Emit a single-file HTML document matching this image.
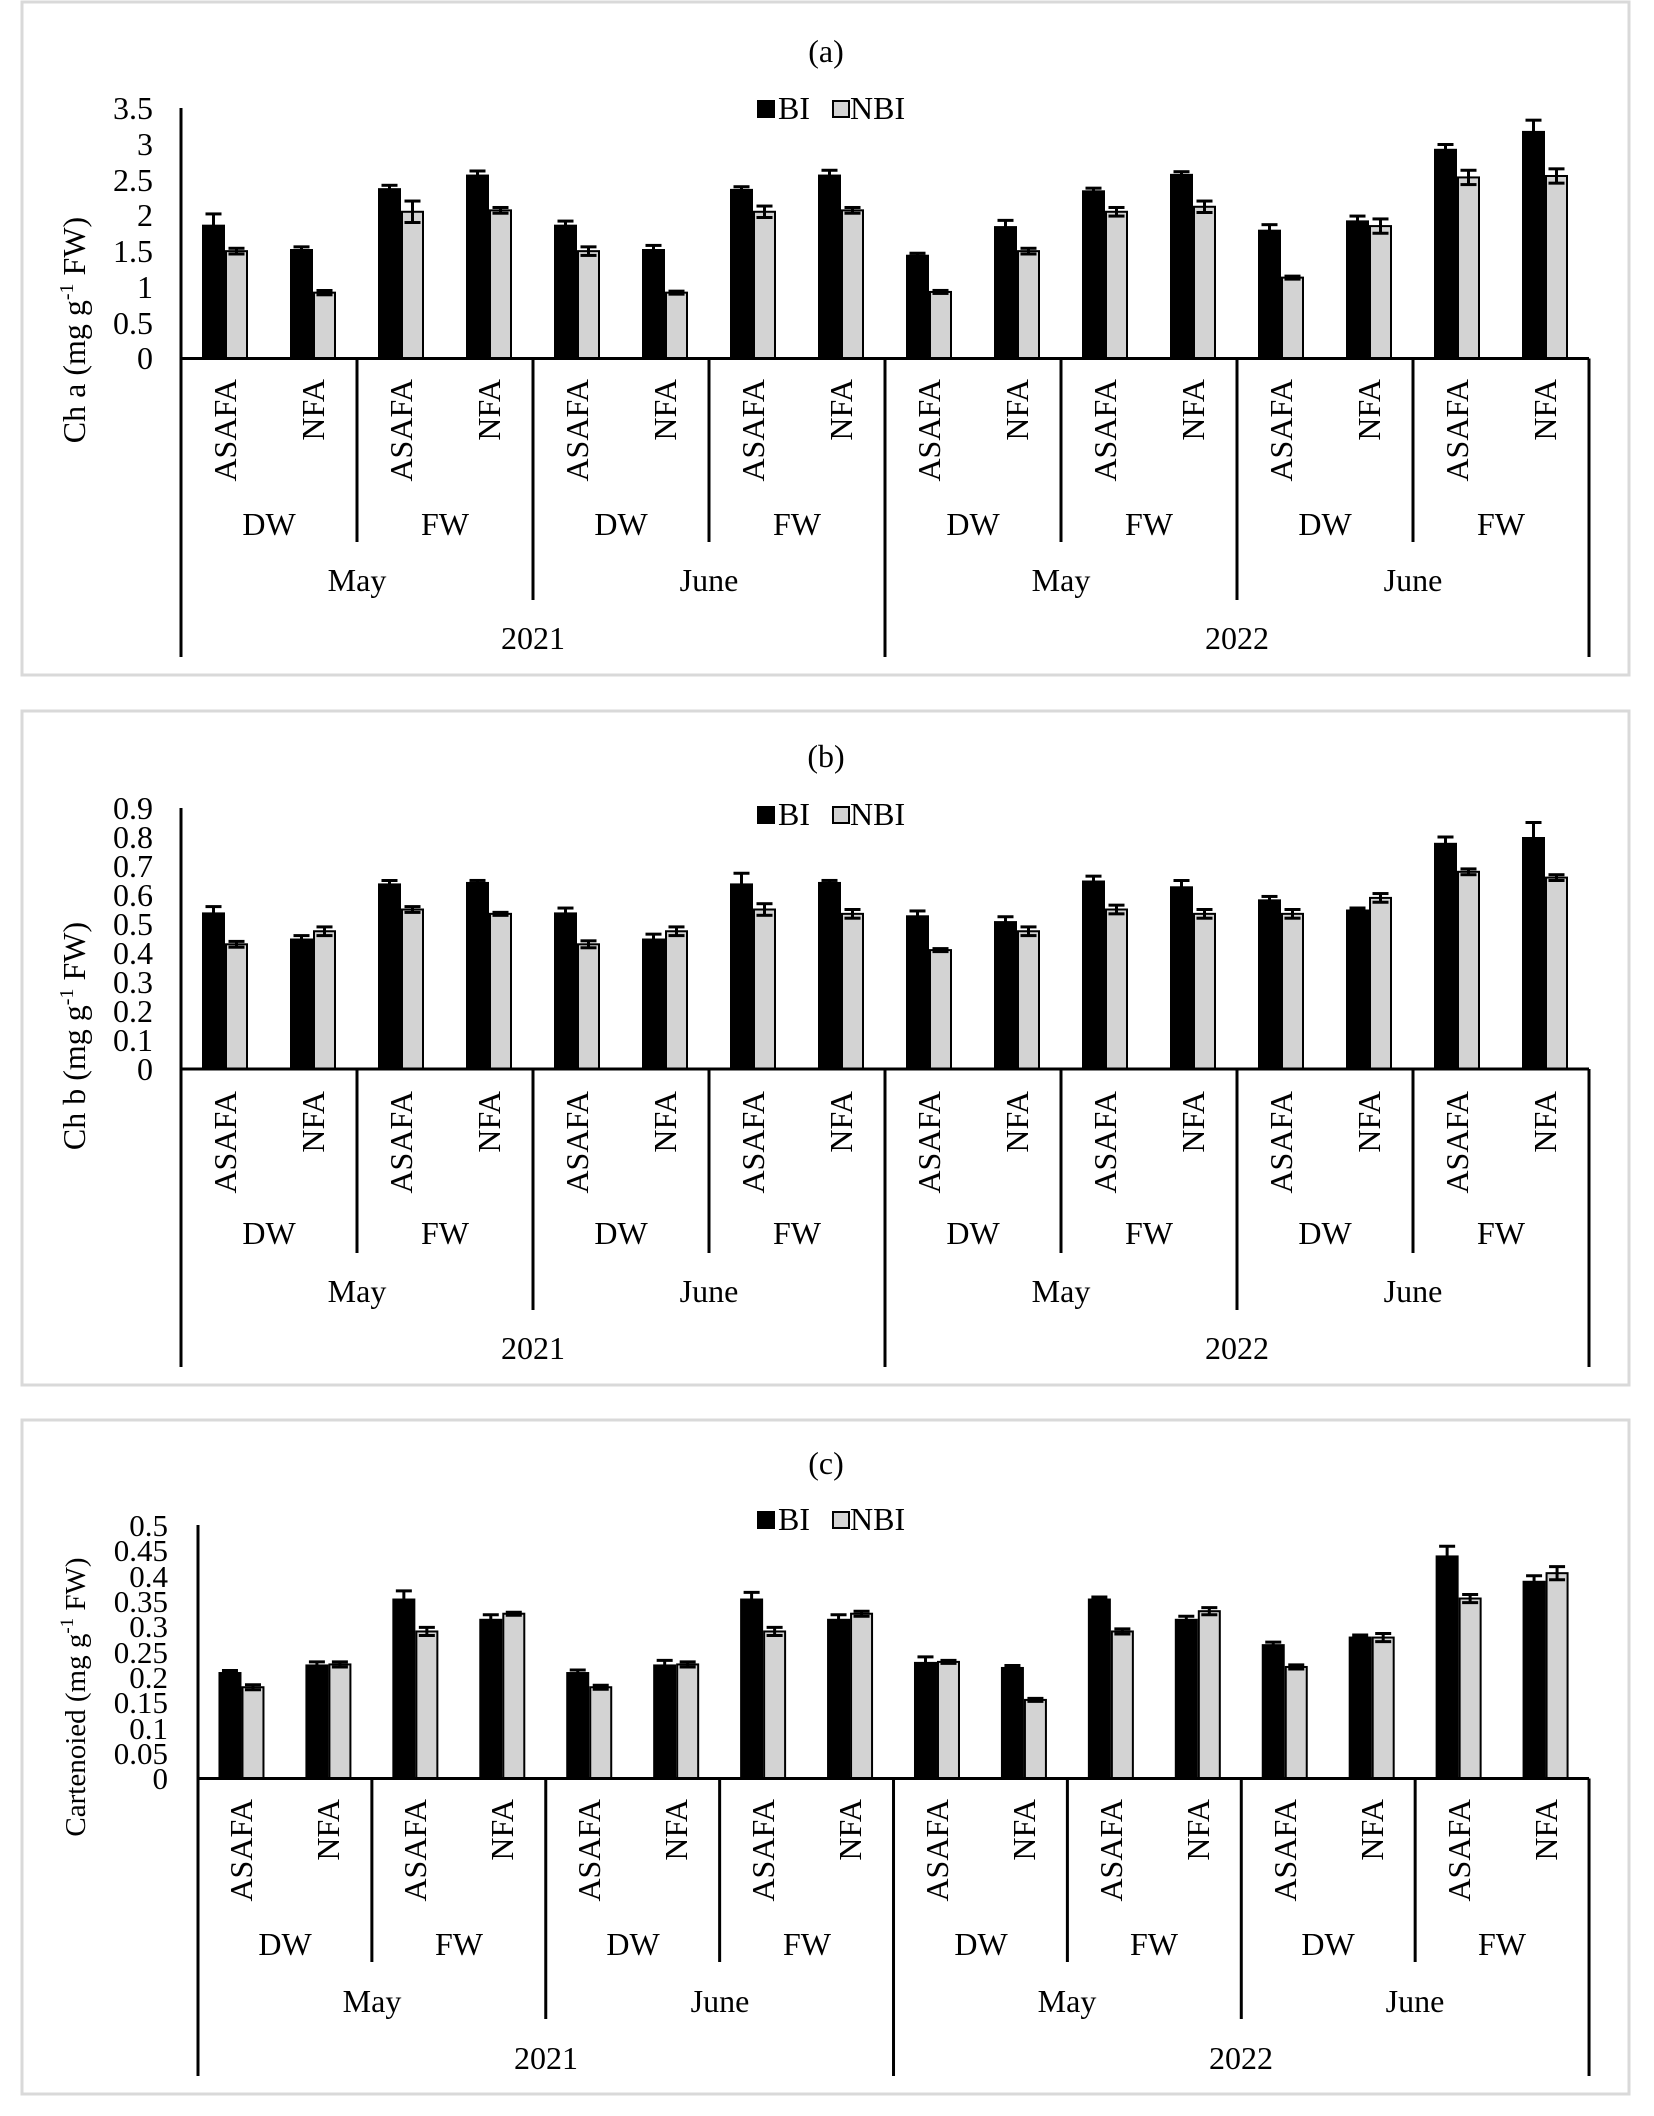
<!DOCTYPE html>
<html><head><meta charset="utf-8"><style>
html,body{margin:0;padding:0;background:#fff;}
svg, svg text{font-family:"Liberation Serif","DejaVu Serif",serif;}
</style></head><body>
<svg id="s" width="1654" height="2111" viewBox="0 0 1654 2111" xmlns="http://www.w3.org/2000/svg" font-family="Liberation Serif, DejaVu Serif, serif">
<rect x="0" y="0" width="1654" height="2111" fill="#fff"/>
<g fill="none" stroke="#d9d9d9" stroke-width="3">
<rect x="22" y="2" width="1607" height="673"/>
<rect x="22" y="711" width="1607" height="674"/>
<rect x="22" y="1420" width="1607" height="674"/>
</g>
<g id="shapes"></g>
<g font-size="32" fill="#000" font-family="Liberation Serif, DejaVu Serif, serif">
<text x="826" y="62" text-anchor="middle">(a)</text>
<text x="826" y="767" text-anchor="middle">(b)</text>
<text x="826" y="1474" text-anchor="middle">(c)</text>
<rect x="757" y="100" width="18" height="18" fill="#000"/><text x="778" y="119">BI</text>
<rect x="833" y="101" width="16" height="16" fill="#d3d3d3" stroke="#000" stroke-width="2"/><text x="850" y="119">NBI</text>
<rect x="757" y="806" width="18" height="18" fill="#000"/><text x="778" y="825">BI</text>
<rect x="833" y="807" width="16" height="16" fill="#d3d3d3" stroke="#000" stroke-width="2"/><text x="850" y="825">NBI</text>
<rect x="757" y="1511" width="18" height="18" fill="#000"/><text x="778" y="1530">BI</text>
<rect x="833" y="1512" width="16" height="16" fill="#d3d3d3" stroke="#000" stroke-width="2"/><text x="850" y="1530">NBI</text>
<text transform="translate(85,330) rotate(-90)" text-anchor="middle">Ch a (mg g<tspan font-size="20" dy="-12">-1</tspan><tspan dy="12"> FW)</tspan></text>
<text transform="translate(85,1036) rotate(-90)" text-anchor="middle">Ch b (mg g<tspan font-size="20" dy="-12">-1</tspan><tspan dy="12"> FW)</tspan></text>
<text transform="translate(85,1697) rotate(-90)" text-anchor="middle" font-size="29">Cartenoied (mg g<tspan font-size="19" dy="-12">-1</tspan><tspan dy="12"> FW)</tspan></text>
<g text-anchor="end">
<text x="153" y="119">3.5</text><text x="153" y="155">3</text><text x="153" y="191">2.5</text><text x="153" y="226">2</text><text x="153" y="262">1.5</text><text x="153" y="298">1</text><text x="153" y="334">0.5</text><text x="153" y="369">0</text>
<text x="153" y="819">0.9</text><text x="153" y="848">0.8</text><text x="153" y="877">0.7</text><text x="153" y="906">0.6</text><text x="153" y="935">0.5</text><text x="153" y="964">0.4</text><text x="153" y="993">0.3</text><text x="153" y="1022">0.2</text><text x="153" y="1051">0.1</text><text x="153" y="1080">0</text>
</g>
<g text-anchor="end" font-size="31">
<text x="168" y="1536">0.5</text><text x="168" y="1561">0.45</text><text x="168" y="1587">0.4</text><text x="168" y="1612">0.35</text><text x="168" y="1637">0.3</text><text x="168" y="1663">0.25</text><text x="168" y="1688">0.2</text><text x="168" y="1713">0.15</text><text x="168" y="1739">0.1</text><text x="168" y="1764">0.05</text><text x="168" y="1789">0</text>
</g>
<g text-anchor="end">
<text transform="translate(236,379) rotate(-90)">ASAFA</text><text transform="translate(324,379) rotate(-90)">NFA</text>
<text transform="translate(412,379) rotate(-90)">ASAFA</text><text transform="translate(500,379) rotate(-90)">NFA</text>
<text transform="translate(588,379) rotate(-90)">ASAFA</text><text transform="translate(676,379) rotate(-90)">NFA</text>
<text transform="translate(764,379) rotate(-90)">ASAFA</text><text transform="translate(852,379) rotate(-90)">NFA</text>
<text transform="translate(940,379) rotate(-90)">ASAFA</text><text transform="translate(1028,379) rotate(-90)">NFA</text>
<text transform="translate(1116,379) rotate(-90)">ASAFA</text><text transform="translate(1204,379) rotate(-90)">NFA</text>
<text transform="translate(1292,379) rotate(-90)">ASAFA</text><text transform="translate(1380,379) rotate(-90)">NFA</text>
<text transform="translate(1468,379) rotate(-90)">ASAFA</text><text transform="translate(1556,379) rotate(-90)">NFA</text>
</g>
<g text-anchor="middle">
<text x="269" y="535">DW</text><text x="445" y="535">FW</text><text x="621" y="535">DW</text><text x="797" y="535">FW</text><text x="973" y="535">DW</text><text x="1149" y="535">FW</text><text x="1325" y="535">DW</text><text x="1501" y="535">FW</text>
<text x="357" y="591">May</text><text x="709" y="591">June</text><text x="1061" y="591">May</text><text x="1413" y="591">June</text>
<text x="533" y="649">2021</text><text x="1237" y="649">2022</text>
</g>
<g text-anchor="end">
<text transform="translate(236,1091) rotate(-90)">ASAFA</text><text transform="translate(324,1091) rotate(-90)">NFA</text>
<text transform="translate(412,1091) rotate(-90)">ASAFA</text><text transform="translate(500,1091) rotate(-90)">NFA</text>
<text transform="translate(588,1091) rotate(-90)">ASAFA</text><text transform="translate(676,1091) rotate(-90)">NFA</text>
<text transform="translate(764,1091) rotate(-90)">ASAFA</text><text transform="translate(852,1091) rotate(-90)">NFA</text>
<text transform="translate(940,1091) rotate(-90)">ASAFA</text><text transform="translate(1028,1091) rotate(-90)">NFA</text>
<text transform="translate(1116,1091) rotate(-90)">ASAFA</text><text transform="translate(1204,1091) rotate(-90)">NFA</text>
<text transform="translate(1292,1091) rotate(-90)">ASAFA</text><text transform="translate(1380,1091) rotate(-90)">NFA</text>
<text transform="translate(1468,1091) rotate(-90)">ASAFA</text><text transform="translate(1556,1091) rotate(-90)">NFA</text>
</g>
<g text-anchor="middle">
<text x="269" y="1244">DW</text><text x="445" y="1244">FW</text><text x="621" y="1244">DW</text><text x="797" y="1244">FW</text><text x="973" y="1244">DW</text><text x="1149" y="1244">FW</text><text x="1325" y="1244">DW</text><text x="1501" y="1244">FW</text>
<text x="357" y="1302">May</text><text x="709" y="1302">June</text><text x="1061" y="1302">May</text><text x="1413" y="1302">June</text>
<text x="533" y="1359">2021</text><text x="1237" y="1359">2022</text>
</g>
<g text-anchor="end">
<text transform="translate(252,1799) rotate(-90)">ASAFA</text><text transform="translate(339,1799) rotate(-90)">NFA</text>
<text transform="translate(426,1799) rotate(-90)">ASAFA</text><text transform="translate(513,1799) rotate(-90)">NFA</text>
<text transform="translate(600,1799) rotate(-90)">ASAFA</text><text transform="translate(687,1799) rotate(-90)">NFA</text>
<text transform="translate(774,1799) rotate(-90)">ASAFA</text><text transform="translate(861,1799) rotate(-90)">NFA</text>
<text transform="translate(948,1799) rotate(-90)">ASAFA</text><text transform="translate(1035,1799) rotate(-90)">NFA</text>
<text transform="translate(1122,1799) rotate(-90)">ASAFA</text><text transform="translate(1209,1799) rotate(-90)">NFA</text>
<text transform="translate(1296,1799) rotate(-90)">ASAFA</text><text transform="translate(1383,1799) rotate(-90)">NFA</text>
<text transform="translate(1470,1799) rotate(-90)">ASAFA</text><text transform="translate(1557,1799) rotate(-90)">NFA</text>
</g>
<g text-anchor="middle">
<text x="285" y="1955">DW</text><text x="459" y="1955">FW</text><text x="633" y="1955">DW</text><text x="807" y="1955">FW</text><text x="981" y="1955">DW</text><text x="1154" y="1955">FW</text><text x="1328" y="1955">DW</text><text x="1502" y="1955">FW</text>
<text x="372" y="2012">May</text><text x="720" y="2012">June</text><text x="1067" y="2012">May</text><text x="1415" y="2012">June</text>
<text x="546" y="2069">2021</text><text x="1241" y="2069">2022</text>
</g>
</g>
</svg>
<script>
(function(){
var NS="http://www.w3.org/2000/svg",g=document.getElementById("shapes");
function el(t,a){var e=document.createElementNS(NS,t);for(var k in a)e.setAttribute(k,a[k]);g.appendChild(e);return e;}
function line(x1,y1,x2,y2,w){el("line",{x1:x1,y1:y1,x2:x2,y2:y2,stroke:"#000","stroke-width":w||3});}
var P=[
{x0:181,gw:88,base:358.5,top:108,max:3.5,l1:542,l2:600,l3:657,
d:[[1.87,.15,1.5,.04],[1.53,.03,.92,.03],[2.38,.04,2.05,.15],[2.57,.05,2.07,.04],
[1.87,.05,1.5,.06],[1.53,.05,.92,.02],[2.37,.03,2.05,.08],[2.57,.06,2.07,.04],
[1.45,.02,.93,.02],[1.85,.08,1.5,.04],[2.35,.03,2.05,.06],[2.58,.03,2.12,.08],
[1.8,.07,1.13,.02],[1.93,.06,1.85,.1],[2.93,.06,2.53,.1],[3.18,.15,2.55,.1]]},
{x0:181,gw:88,base:1069,top:808,max:0.9,l1:1253,l2:1310,l3:1367,
d:[[.54,.02,.43,.01],[.45,.01,.475,.015],[.64,.01,.55,.01],[.645,.005,.535,.005],
[.54,.015,.43,.012],[.45,.015,.475,.015],[.64,.035,.55,.02],[.645,.005,.535,.015],
[.53,.015,.41,.005],[.51,.015,.475,.015],[.65,.015,.55,.015],[.63,.02,.535,.015],
[.585,.01,.535,.015],[.55,.005,.59,.015],[.78,.02,.68,.01],[.80,.05,.66,.01]]},
{x0:198,gw:86.94,base:1778.5,top:1525,max:0.5,l1:1962,l2:2019,l3:2076,
d:[[.21,.003,.18,.005],[.225,.005,.225,.005],[.355,.015,.29,.008],[.315,.008,.325,.003],
[.21,.004,.18,.004],[.225,.008,.225,.005],[.355,.012,.29,.008],[.315,.008,.325,.005],
[.23,.01,.23,.002],[.22,.002,.155,.003],[.355,.003,.29,.005],[.315,.005,.33,.007],
[.265,.004,.22,.004],[.28,.003,.278,.008],[.44,.018,.355,.008],[.39,.01,.405,.013]]}];
P.forEach(function(p){
var sc=(p.base-p.top)/p.max;
p.d.forEach(function(v,i){
var c=p.x0+p.gw*(i+0.5);
var y1=p.base-v[0]*sc,y2=p.base-v[2]*sc;
el("rect",{x:c-23,y:y1,width:23,height:p.base-y1,fill:"#000"});
el("rect",{x:c+1,y:y2,width:21,height:p.base-y2,fill:"#d3d3d3",stroke:"#000","stroke-width":2});
[[c-11.5,y1,v[1]],[c+11.5,y2,v[3]]].forEach(function(e){
var d=Math.max(e[2]*sc,1.5);
line(e[0],e[1]-d,e[0],e[1]+d,3);
line(e[0]-8,e[1]-d,e[0]+8,e[1]-d,3);
line(e[0]-8,e[1]+d,e[0]+8,e[1]+d,3);
});
});
var xe=p.x0+p.gw*16;
line(p.x0,p.top,p.x0,p.l3,3);
line(p.x0,p.base,xe,p.base,3);
for(var k=1;k<=8;k++){var x=p.x0+p.gw*2*k;var y=(k%4==0)?p.l3:((k%2==0)?p.l2:p.l1);line(x,p.base,x,y,3);}
});
})();
</script>
</body></html>
